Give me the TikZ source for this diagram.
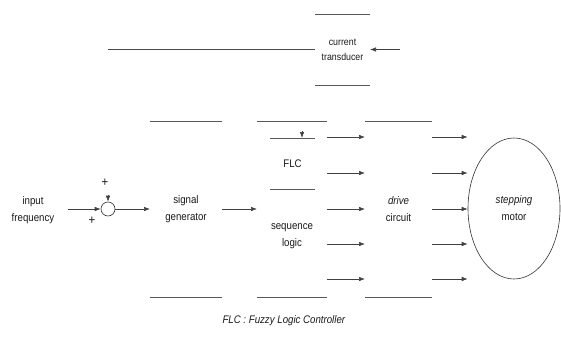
\documentclass[tikz,border=0pt]{standalone}
\usepackage{fontspec}
\setmainfont[FakeStretch=0.88]{Liberation Sans}
\usetikzlibrary{arrows.meta,calc,shapes.geometric}
\begin{document}
\begin{tikzpicture}[x=1pt,y=-1pt,
  every node/.style={font=\fontsize{11}{17}\selectfont, align=center, text=black!90},
  blk/.style={inner sep=0pt, outer sep=0pt},
  edge/.style={draw=black!65, line width=0.6pt},
  conn/.style={draw=black!75, line width=0.6pt, -{Latex[length=6pt,width=4.5pt]}},
  plain/.style={draw=black!70, line width=0.6pt}]
\useasboundingbox (0,0) rectangle (561,340);
% blocks
\node[blk, minimum width=72pt, minimum height=176pt] (sg) at (186,209) {signal\\generator};
\node[blk, minimum width=70pt, minimum height=176pt] (seq) at (292,209) {};
\node[blk, minimum width=45pt, minimum height=51pt] (flc) at (292.5,163.5) {FLC};
\node (sl) at (292,236) {sequence\\logic};
\node[blk, minimum width=67pt, minimum height=176pt] (drv) at (398.5,209) {\textit{drive}\\circuit};
\node[blk, minimum width=55pt, minimum height=71pt, font=\fontsize{10}{15}\selectfont] (tr) at (342.5,49.5) {current\\transducer};
\node[draw=black!80, line width=0.6pt, ellipse, minimum width=92pt, minimum height=141pt, inner sep=0pt] (mot) at (514,208.5) {\textit{stepping}\\motor};
\node[draw=black!80, line width=0.6pt, circle, minimum size=14pt, inner sep=0pt] (sum) at (108,209) {};
\node (inp) at (33,210) {input\\frequency};
\node[font=\fontsize{13}{13}\selectfont] (p1) at (105,183) {+};
\node[font=\fontsize{13}{13}\selectfont] (p2) at (92,221) {+};
\node (cap) at (284,321) {\textit{FLC : Fuzzy Logic Controller}};
% block edges (only horizontal edges are visible)
\foreach \n in {sg,seq,flc,drv,tr}
  \draw[edge] (\n.north west) -- (\n.north east) (\n.south west) -- (\n.south east);
% connectors
\coordinate (inStart) at (68,209);
\draw[conn] (inStart) -- (sum.west);
\draw[conn] (sum.east) -- (sg.west);
\draw[conn] (sg.east) -- (seq.west);
\foreach \yy in {137,173,209,244,279} {
  \draw[conn] (seq.east |- 0,\yy) -- (drv.west |- 0,\yy);
  \draw[conn] (drv.east |- 0,\yy) -- (mot.west |- 0,\yy);
}
% feedback
\coordinate (trIn) at (400,49.5);
\draw[conn] (trIn) -- (tr.east);
\coordinate (fbL) at (108,49.5);
\draw[plain] (tr.west) -- (fbL);
\coordinate (sumTop) at (108,195);
\draw[conn] (sumTop) -- (sum.north);
\coordinate (flcTop) at (302,131);
\draw[conn] (flcTop) -- (flc.north -| flcTop);
\end{tikzpicture}
\end{document}
